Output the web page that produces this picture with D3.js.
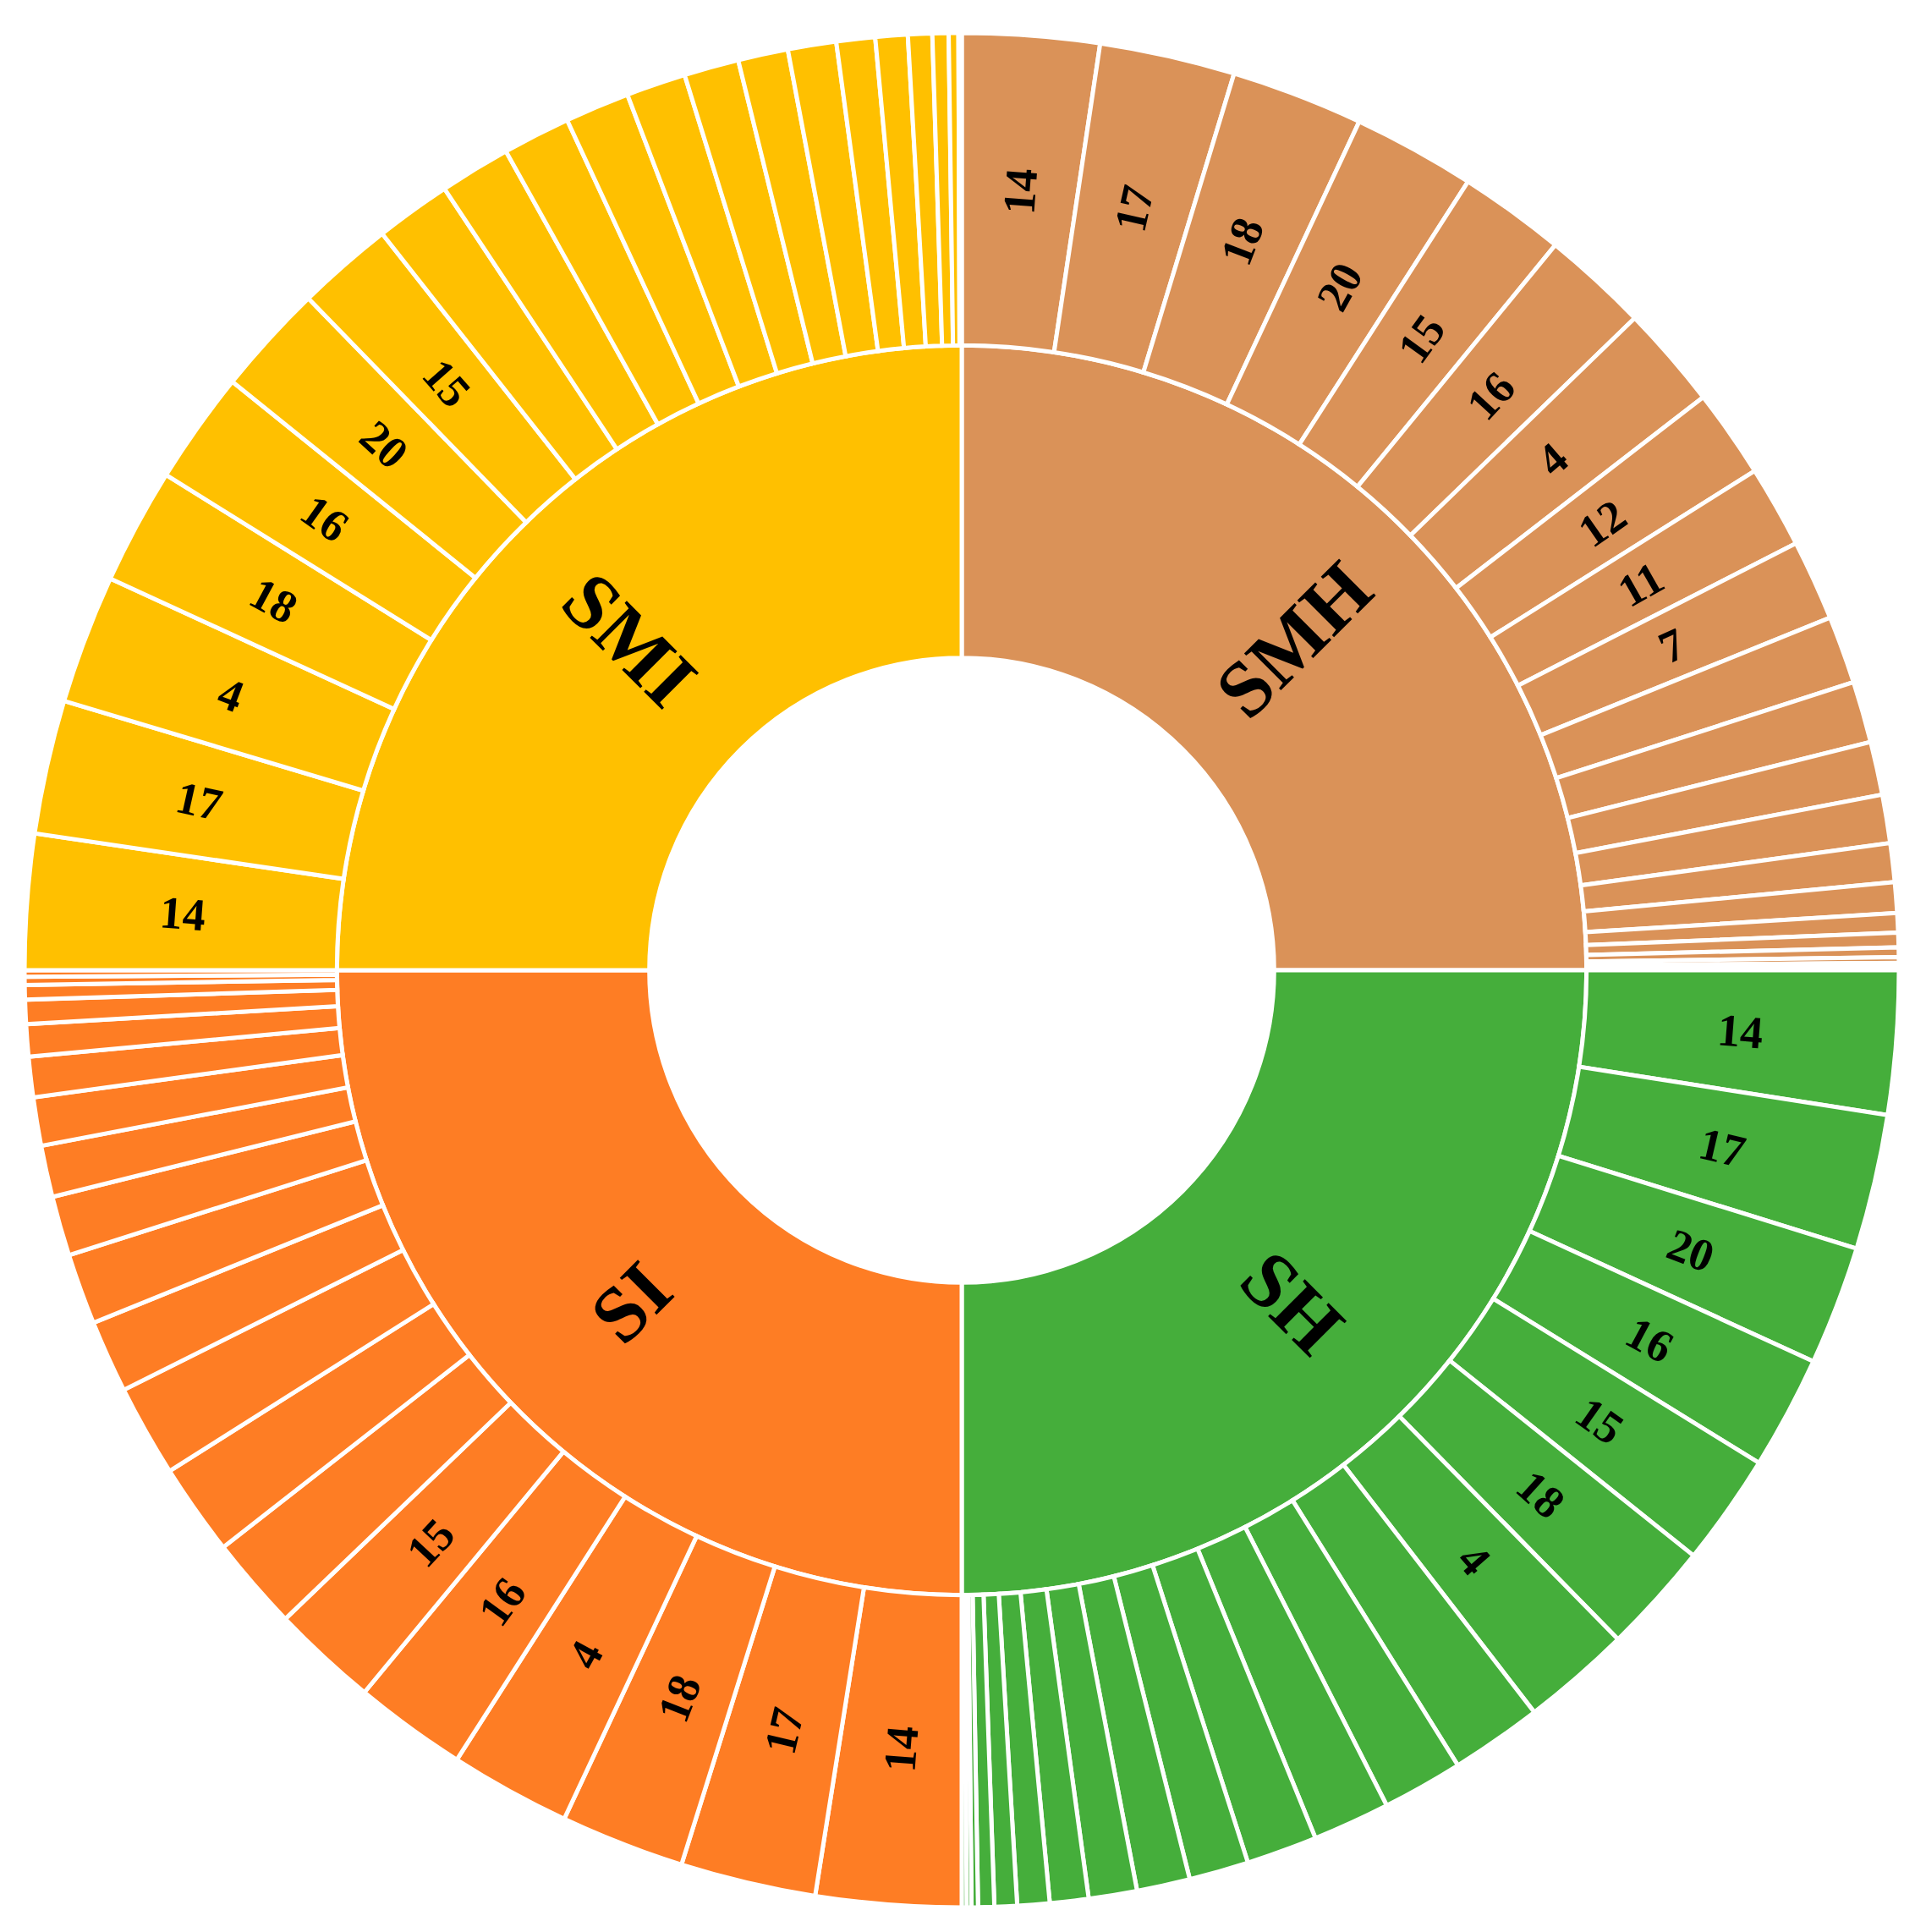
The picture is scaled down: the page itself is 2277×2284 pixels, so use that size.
<!DOCTYPE html>
<html>
<head>
<meta charset="utf-8">
<script src="https://cdn.jsdelivr.net/npm/d3@7"></script>
<style>
  html, body { margin: 0; padding: 0; background: #fff; }
  svg { display: block; }
  text { font-family: "Liberation Serif", "DejaVu Serif", serif; font-weight: bold; fill: #000; }
</style>
</head>
<body>
<svg id="chart"></svg>
<script>
// groups, clockwise from 12 o'clock
const groupNames = ['SMH', 'SH', 'SI', 'SMI']
const groupColors = ['#DA9258', '#45AE3B', '#FE7D24', '#FFC000']

// outer ring: share of each item within its group
const smhLabels = ['14', '17', '18', '20', '15', '16', '4', '12', '11', '7', '', '', '', '', '', '', '', '', '', '', '', '']
const smhValues = [8.5, 8.4, 8.2, 7.6, 6.6, 6.6, 6.4, 5.5, 5.1, 5.0, 4.2, 3.8, 3.3, 3.0, 2.4, 1.9, 1.2, 0.9, 0.6, 0.35, 0.25, 0.2]

const shLabels = ['14', '17', '20', '16', '15', '18', '4', '', '', '', '', '', '', '', '', '', '', '', '', '', '']
const shValues = [8.9, 8.4, 7.4, 7.05, 6.95, 6.9, 6.8, 5.7, 5.0, 4.8, 4.4, 3.7, 3.3, 3.0, 2.4, 2.0, 1.4, 1.0, 0.4, 0.3, 0.3]

const siLabels = ['14', '17', '18', '4', '16', '15', '', '', '', '', '', '', '', '', '', '', '', '', '', '']
const siValues = [9.0, 8.4, 7.7, 7.5, 7.0, 6.6, 5.8, 5.7, 5.7, 4.5, 4.4, 3.7, 3.2, 3.0, 2.5, 2.0, 1.5, 0.9, 0.5, 0.4]

const smiLabels = ['14', '17', '4', '18', '16', '20', '15', '', '', '', '', '', '', '', '', '', '', '', '', '', '']
const smiValues = [8.4, 8.3, 8.0, 7.2, 7.0, 6.9, 6.0, 4.7, 4.4, 4.2, 4.0, 3.7, 3.4, 3.1, 3.0, 2.4, 2.0, 1.5, 1.0, 0.6, 0.2]

const itemLabels = [smhLabels, shLabels, siLabels, smiLabels]
const itemValues = [smhValues, shValues, siValues, smiValues]

const width = 2277,
  height = 2284,
  cx = 1137,
  cy = 1147,
  radius = 1108

// every group takes a quarter of the circle, so items are normalised inside their group
let root = d3.hierarchy({
  name: 'root',
  children: groupNames.map((g, i) => {
    let total = d3.sum(itemValues[i])
    return {
      name: g,
      color: groupColors[i],
      children: itemValues[i].map((v, j) => ({ name: itemLabels[i][j], value: v / total }))
    }
  })
}).sum(d => d.value || 0)

d3.partition().size([2 * Math.PI, radius])(root)

let arc = d3.arc()
  .startAngle(d => d.x0)
  .endAngle(d => d.x1)
  .innerRadius(d => d.y0)
  .outerRadius(d => d.y1)

let svg = d3.select('#chart')
  .attr('width', width)
  .attr('height', height)
  .attr('viewBox', `0 0 ${ width } ${ height }`)

let g = svg.append('g')
  .attr('transform', `translate(${ cx },${ cy })`)

let nodes = root.descendants().filter(d => d.depth > 0)

g.selectAll('path')
  .data(nodes)
  .enter().append('path')
    .attr('d', arc)
    .style('fill', d => d.depth === 1 ? d.data.color : d.parent.data.color)
    .style('stroke', '#fff')
    .style('stroke-width', 5)

let labelTransform = d => {
  let x = (d.x0 + d.x1) / 2 * 180 / Math.PI,
    y = (d.y0 + d.y1) / 2
  return `rotate(${ x - 90 }) translate(${ y },0) rotate(${ x < 180 ? 0 : 180 })`
}

g.selectAll('text')
  .data(nodes.filter(d => d.data.name))
  .enter().append('text')
    .attr('transform', labelTransform)
    .attr('text-anchor', 'middle')
    .attr('dy', '0.35em')
    .style('font-size', d => d.depth === 1 ? '94px' : '54px')
    .text(d => d.data.name)
</script>
</body>
</html>
